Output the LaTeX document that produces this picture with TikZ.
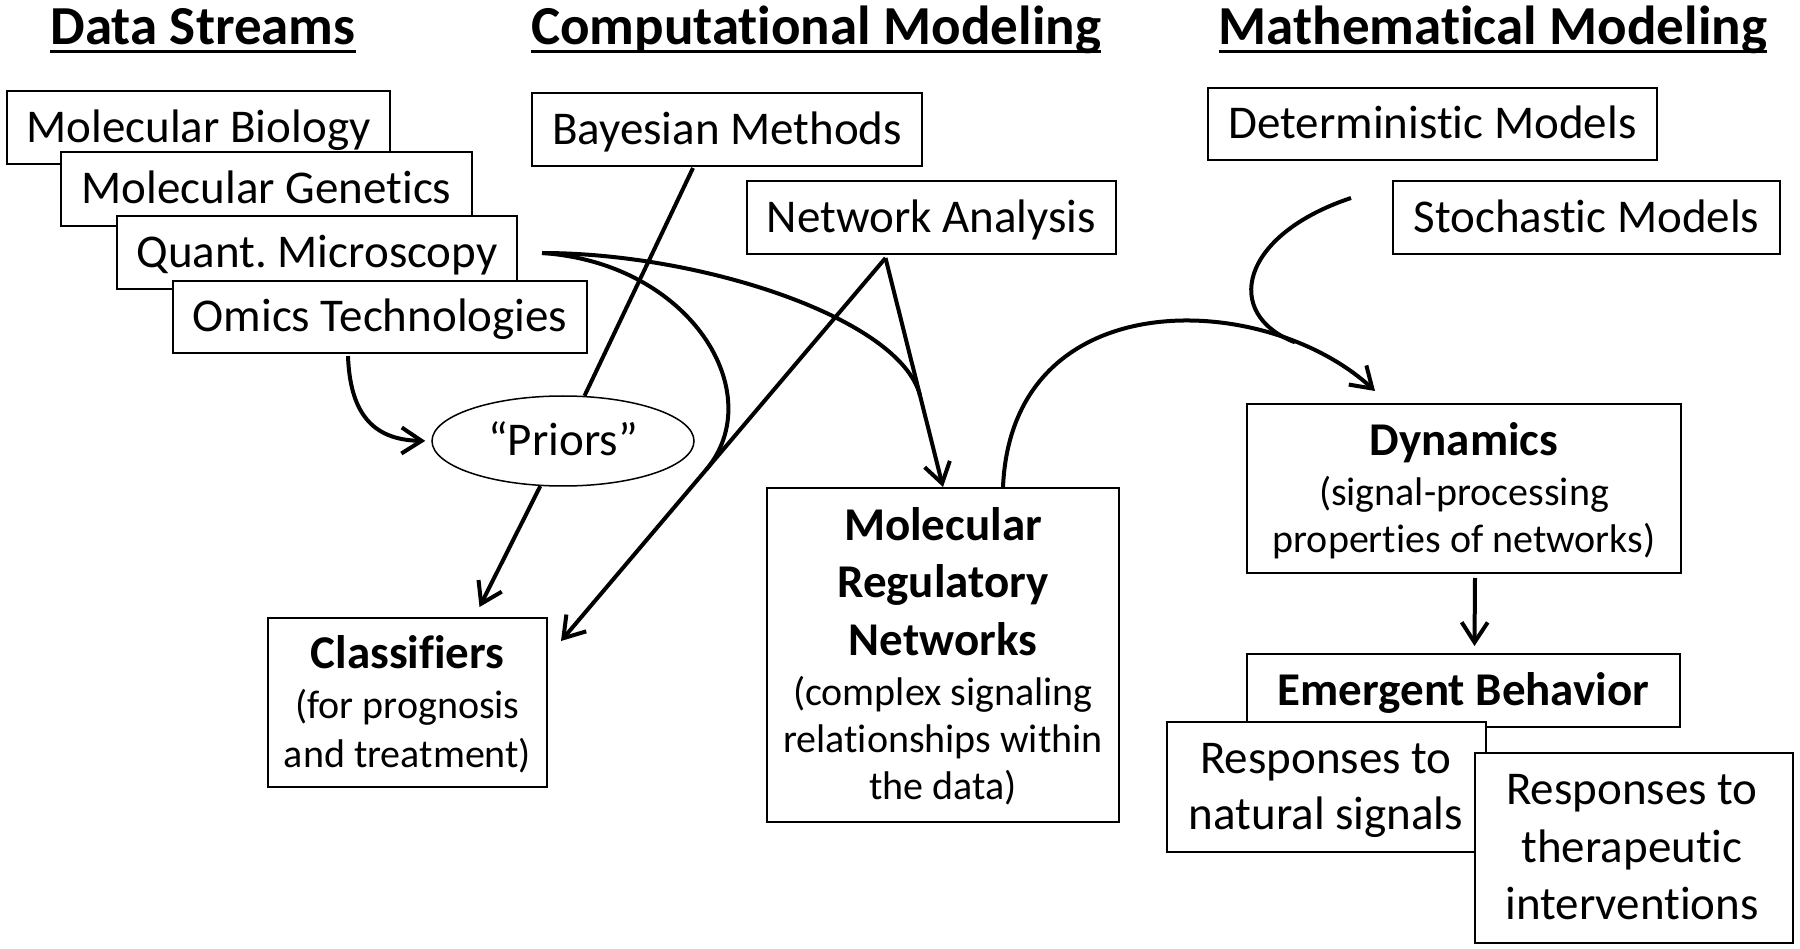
\documentclass[tikz,border=0pt]{standalone}
\usepackage{fontspec}
\setmainfont{Carlito}[Ligatures={CommonOff,ContextualOff,RareOff}, Contextuals=AlternateOff]
\usetikzlibrary{arrows.meta,shapes.geometric,calc}
\frenchspacing
\newcommand\Ti{t\kern0pt i}
\begin{document}
\begin{tikzpicture}[x=1pt,y=-1pt,
  box/.style={draw, line width=2pt, fill=white, rectangle, inner sep=0pt},
  reg/.style={font=\fontsize{47}{56}\selectfont},
  bld/.style={font=\bfseries\fontsize{47}{56}\selectfont},
  sub/.style={font=\fontsize{40}{48}\selectfont},
  one/.style={text height=30pt, text depth=0pt},
  ttl/.style={font=\bfseries\fontsize{55}{66}\selectfont, inner sep=0pt, anchor=base},
  ln/.style={inner sep=0pt, anchor=base},
  conn/.style={line width=4pt},
  arr/.style={-{Straight Barb[length=20pt,width=26pt]}},
  uline/.style={line width=3pt}
]
\useasboundingbox (0,0) rectangle (1800,949);

% titles
\node[ttl] (t1) at (203,45) {Data Streams};
\node[ttl] (t2) at (816,45) {Computa\Ti onal Modeling};
\node[ttl] (t3) at (1493,45) {Mathema\Ti cal Modeling};
\foreach \t in {t1,t2,t3}
  \draw[uline] ([yshift=-7pt]\t.base west) -- ([yshift=-7pt]\t.base east);

% data streams
\node[box, reg, one, minimum width=383pt, minimum height=73pt] (mb) at (198.5,127.5) {Molecular Biology};
\node[box, reg, one, minimum width=411pt, minimum height=74pt] (mg) at (266.5,189) {Molecular Gene\Ti cs};
\node[box, reg, one, minimum width=400pt, minimum height=73pt] (qm) at (317,252.5) {Quant. Microscopy};
\node[box, reg, one, minimum width=414pt, minimum height=72pt] (ot) at (380,317) {Omics Technologies};

% computational modeling
\node[box, reg, one, minimum width=390pt, minimum height=73pt] (bay) at (727,129.5) {Bayesian Methods};
\node[box, reg, one, minimum width=369pt, minimum height=73pt] (na) at (931.5,217.5) {Network Analysis};

% mathematical modeling
\node[box, reg, one, minimum width=449pt, minimum height=72pt] (det) at (1432.5,124) {Determinis\Ti c Models};
\node[box, reg, one, minimum width=387pt, minimum height=73pt] (sto) at (1586.5,217.5) {Stochas\Ti c Models};

% priors
\node[draw, ellipse, line width=1.5pt, fill=white, inner sep=0pt,
      minimum width=262pt, minimum height=90pt, reg, one] (pri) at (563,441) {“Priors”};

% classifiers
\node[box, minimum width=279pt, minimum height=169pt] (cls) at (407.5,702.5) {};
\node[ln, bld] (cls1) at (407.5,668) {Classifiers};
\node[ln, sub] (cls2) at (407.5,718) {(for prognosis};
\node[ln, sub] (cls3) at (407.5,767) {and treatment)};

% molecular regulatory networks
\node[box, minimum width=352pt, minimum height=334pt] (mrn) at (943,655) {};
\node[ln, bld] (mrn1) at (943,540) {Molecular};
\node[ln, bld] (mrn2) at (943,597) {Regulatory};
\node[ln, bld] (mrn3) at (943,655) {Networks};
\node[ln, sub] (mrn4) at (943,705) {(complex signaling};
\node[ln, sub] (mrn5) at (943,752) {rela\Ti onships within};
\node[ln, sub] (mrn6) at (943,799) {the data)};

% dynamics
\node[box, minimum width=434pt, minimum height=169pt] (dyn) at (1464,488.5) {};
\node[ln, bld] (dyn1) at (1464,456) {Dynamics};
\node[ln, sub] (dyn2) at (1464,505) {(signal-processing};
\node[ln, sub] (dyn3) at (1464,552) {proper\Ti es of networks)};

% emergent behavior
\node[box, bld, one, minimum width=433pt, minimum height=73pt] (emg) at (1463.5,690.5) {Emergent Behavior};
\node[box, minimum width=319pt, minimum height=130pt] (nat) at (1326.5,787) {};
\node[ln, reg] (nat1) at (1326,773) {Responses to};
\node[ln, reg] (nat2) at (1326,829) {natural signals};
\node[box, minimum width=318pt, minimum height=190pt] (ther) at (1634,848) {};
\node[ln, reg] (ther1) at (1632,804) {Responses to};
\node[ln, reg] (ther2) at (1632,862) {therapeu\Ti c};
\node[ln, reg] (ther3) at (1632,919) {interven\Ti ons};

% connector end points
\coordinate (qmS) at ($(qm.east)+(24,0.5)$);
\coordinate (naA) at ($(na.south)+(-46,3)$);
\coordinate (clsT) at ($(cls.north east)+(13,24)$);
\coordinate (clsP) at ($(cls.north)+(72,-10)$);
\coordinate (otS) at ($(ot.south)+(-32,2)$);
\coordinate (bayS) at ($(bay.south)+(-34,1)$);
\coordinate (mrnS) at ($(mrn.north)+(60,0)$);
\coordinate (dynT) at ($(dyn.north)+(-89,-12)$);
\coordinate (dsS) at ($(sto.west)+(-41,-19.5)$);

% connectors
\draw[conn, arr, shorten >=6pt] (otS) .. controls (350,410) and (370,440) .. (pri.west);
\draw[conn] (bayS) -- (pri);
\draw[conn, arr] (pri) -- (clsP);
\draw[conn, arr] (naA) -- coordinate[pos=0.553] (m1) (clsT);
\draw[conn, arr] (naA) -- coordinate[pos=0.6] (m2) (mrn.north);
\draw[conn] (qmS) .. controls (691,263) and (770,394) .. (m1);
\draw[conn] (qmS) .. controls (700,253) and (900,318) .. (m2);
\draw[conn, arr] (mrnS) .. controls (1012,280) and (1265,290) .. coordinate[pos=0.8] (m3) (dynT);
\draw[conn] (dsS) .. controls (1240,235) and (1222,314) .. (m3);
\draw[conn, arr] ($(dyn.south)+(11,4)$) -- ($(emg.north)+(11,-7)$);
\end{tikzpicture}
\end{document}
